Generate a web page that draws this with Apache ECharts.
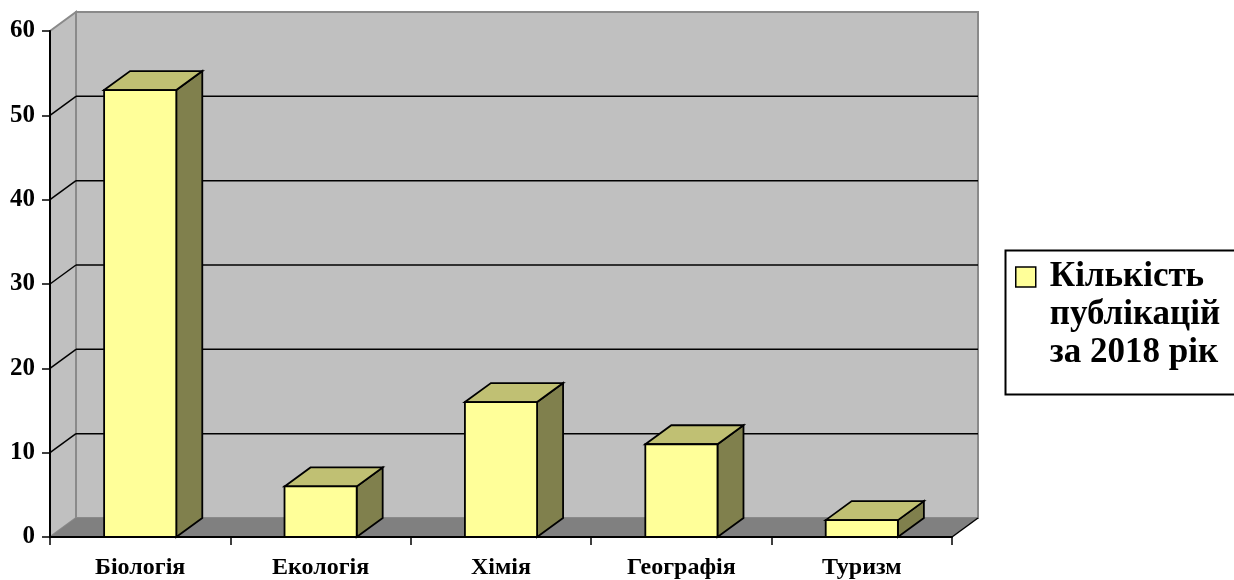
<!DOCTYPE html>
<html>
<head>
<meta charset="utf-8">
<script src="https://cdn.jsdelivr.net/npm/echarts@6/dist/echarts.min.js"></script>
<style>
  html, body { margin: 0; padding: 0; background: #ffffff; }
  #chart { width: 1234px; height: 580px; }
</style>
</head>
<body>
<div id="chart"></div>
<script>
// Categories and values
const categories = ['Біологія', 'Екологія', 'Хімія', 'Географія', 'Туризм'];
const publications = [53, 6, 16, 11, 2];
const yTicks = [0, 10, 20, 30, 40, 50, 60];
const seriesName = 'Кількість публікацій за 2018 рік';
const legendLines = ['Кількість', 'публікацій', 'за 2018 рік'];

// Pseudo-3D depth offset (pixels) and shared styling
const DX = 26, DY = -19;
const FONT = '"Liberation Serif", "Times New Roman", serif';
const WALL = '#c0c0c0', FLOOR = '#808080', EDGE = '#8a8a8a';
const FRONT = '#ffff99', TOP = '#c0c073', SIDE = '#80804d';

const chart = echarts.init(document.getElementById('chart'), null, { renderer: 'canvas' });

// Side wall, back wall, floor and gridlines of the 3D plot area
function renderWalls(params, api) {
  const cs = params.coordSys;
  const x0 = cs.x, x1 = cs.x + cs.width, yT = cs.y, yB = cs.y + cs.height;
  const children = [
    { type: 'polygon', shape: { points: [[x0, yT], [x0 + DX, yT + DY], [x0 + DX, yB + DY], [x0, yB]] },
      style: { fill: WALL, stroke: EDGE, lineWidth: 2 } },
    { type: 'rect', shape: { x: x0 + DX, y: yT + DY, width: cs.width, height: cs.height },
      style: { fill: WALL, stroke: EDGE, lineWidth: 2 } },
    { type: 'polygon', shape: { points: [[x0, yB], [x0 + DX, yB + DY], [x1 + DX, yB + DY], [x1, yB]] },
      style: { fill: FLOOR, stroke: null } },
    { type: 'line', shape: { x1: x1, y1: yB, x2: x1 + DX, y2: yB + DY },
      style: { stroke: '#000', lineWidth: 1.5 } }
  ];
  yTicks.slice(1, -1).forEach(function (v) {
    const y = api.coord([0, v])[1];
    children.push({ type: 'line', shape: { x1: x0, y1: y, x2: x0 + DX, y2: y + DY },
      style: { stroke: '#000', lineWidth: 1.5 } });
    children.push({ type: 'line', shape: { x1: x0 + DX, y1: y + DY, x2: x1 + DX, y2: y + DY },
      style: { stroke: '#000', lineWidth: 1.5 } });
  });
  return { type: 'group', children: children };
}

// One box-shaped column: front face, top face, right side face
function renderBar(params, api) {
  const c = api.value(0), v = api.value(1);
  const top = api.coord([c, v]);
  const base = api.coord([c, 0]);
  const bw = api.size([1, 0])[0] * 0.4;
  const xl = top[0] - bw / 2, xr = top[0] + bw / 2, yt = top[1], yb = base[1];
  const stroke = { stroke: '#000', lineWidth: 1.8, lineJoin: 'miter' };
  return {
    type: 'group',
    children: [
      { type: 'polygon', shape: { points: [[xr, yt], [xr + DX, yt + DY], [xr + DX, yb + DY], [xr, yb]] },
        style: Object.assign({ fill: SIDE }, stroke) },
      { type: 'polygon', shape: { points: [[xl, yt], [xl + DX, yt + DY], [xr + DX, yt + DY], [xr, yt]] },
        style: Object.assign({ fill: TOP }, stroke) },
      { type: 'rect', shape: { x: xl, y: yt, width: bw, height: yb - yt },
        style: Object.assign({ fill: FRONT }, stroke) }
    ]
  };
}

chart.setOption({
  animation: false,
  backgroundColor: '#ffffff',
  grid: { left: 50, right: 282, top: 31, bottom: 43, containLabel: false },
  xAxis: {
    type: 'category',
    data: categories,
    boundaryGap: true,
    z: 10,
    axisLine: { show: true, lineStyle: { color: '#000', width: 2 } },
    axisTick: { show: true, length: 8, alignWithLabel: false, lineStyle: { color: '#000', width: 1.5 } },
    axisLabel: { color: '#000', fontFamily: FONT, fontWeight: 'bold', fontSize: 24, margin: 19 },
    splitLine: { show: false }
  },
  yAxis: {
    type: 'value',
    min: yTicks[0],
    max: yTicks[yTicks.length - 1],
    interval: 10,
    z: 10,
    axisLine: { show: true, lineStyle: { color: '#000', width: 2 } },
    axisTick: { show: true, length: 8, lineStyle: { color: '#000', width: 1.5 } },
    axisLabel: { color: '#000', fontFamily: FONT, fontWeight: 'bold', fontSize: 25, margin: 15, padding: [3, 0, 0, 0] },
    splitLine: { show: false }
  },
  legend: {
    data: [seriesName],
    selectedMode: false,
    left: 1015,
    top: 182,
    padding: 0,
    icon: 'rect',
    itemWidth: 20,
    itemHeight: 20,
    itemStyle: { color: FRONT, borderColor: '#000', borderWidth: 1.5 },
    // two empty leading lines keep the first text line level with the swatch
    formatter: function () { return '\n\n' + legendLines.join('\n'); },
    textStyle: { color: '#000', fontFamily: FONT, fontWeight: 'bold', fontSize: 35, lineHeight: 38, padding: [0, 0, 0, 9] }
  },
  graphic: [
    { type: 'rect', left: 1003, top: 248, z: 0,
      shape: { width: 300, height: 144 },
      style: { fill: 'none', stroke: '#000', lineWidth: 2 } }
  ],
  series: [
    {
      type: 'custom',
      name: 'walls',
      silent: true,
      clip: false,
      z: 1,
      renderItem: renderWalls,
      data: [[0, 0]]
    },
    {
      type: 'custom',
      name: seriesName,
      clip: false,
      z: 3,
      itemStyle: { color: FRONT },
      encode: { x: 0, y: 1 },
      renderItem: renderBar,
      data: publications.map(function (v, i) { return [i, v]; })
    }
  ]
});
</script>
</body>
</html>
